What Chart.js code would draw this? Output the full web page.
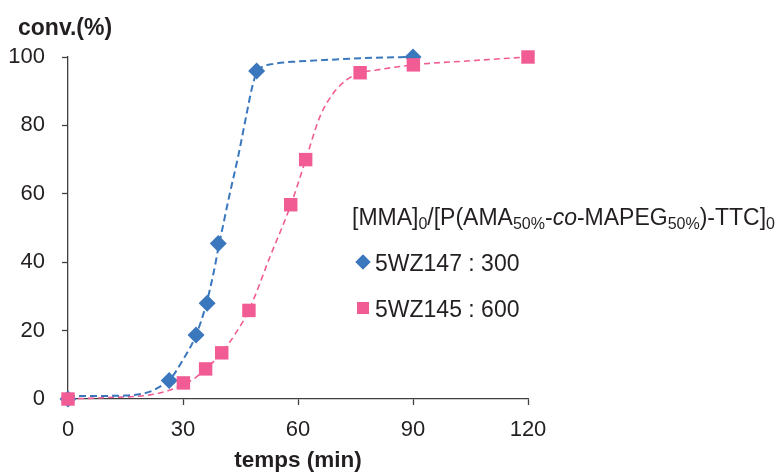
<!DOCTYPE html>
<html>
<head>
<meta charset="utf-8">
<script src="https://cdn.jsdelivr.net/npm/chart.js@4"></script>
<style>
  body { margin: 0; background: #fff; }
  #wrap { width: 781px; height: 472px; position: relative; }
</style>
</head>
<body>
<div id="wrap"><canvas id="myChart"></canvas></div>
<script>
// measured points
const time147 = [0, 26.4, 33.4, 36.3, 39.2, 49.2, 90];
const conv147 = [0, 5.4, 18.7, 28, 45.5, 95.9, 100];
const time145 = [0, 30.1, 35.9, 40.1, 47.2, 58.1, 62, 76.2, 90.1, 120];
const conv145 = [0, 4.7, 8.8, 13.5, 25.9, 56.8, 70, 95.4, 97.7, 100];

// dashed fit curves
const fitTime147 = [0, 8, 15, 21, 24, 26.4, 29.7, 33.4, 36, 38, 39.2, 40.5, 42, 44.4, 46.8, 48, 49.2, 50.5, 53.6, 60, 66.6, 80, 90];
const fitConv147 = [0.8, 0.9, 1, 2, 3.6, 5.4, 10.9, 18.7, 27.5, 37, 44, 51, 59, 71, 84.5, 91, 95.5, 97, 98, 98.7, 99.1, 99.8, 100];
const fitTime145 = [0, 10, 21.4, 26.6, 30.1, 32.7, 35.9, 40.1, 44, 47.2, 52.7, 58.1, 62, 65.7, 69.2, 72.7, 76.2, 80.5, 90, 105, 120];
const fitConv145 = [0, 0.4, 1.2, 2.6, 4.3, 5.8, 8.8, 13.5, 19.7, 26, 41.6, 56.7, 69.9, 82.5, 89.4, 93.3, 95.4, 96.2, 97.7, 98.9, 100];

const xTicks = [0, 30, 60, 90, 120];
const yTicks = [0, 20, 40, 60, 80, 100];

const seriesNames = ['5WZ147 : 300', '5WZ145 : 600'];

const blue = '#3A77BD';
const pink = '#F15C95';
const axisColor = '#404040';
const textColor = '#231F20';
const FONT = "'Liberation Sans', Arial, sans-serif";

const pts = (xs, ys) => xs.map((x, i) => ({ x: x, y: ys[i] }));

// y axis title + legend with subscripts
const extras = {
  id: 'extras',
  afterDraw(chart) {
    const ctx = chart.ctx;
    ctx.save();
    ctx.fillStyle = textColor;
    ctx.textBaseline = 'alphabetic';
    ctx.textAlign = 'left';
    ctx.font = 'bold 23px ' + FONT;
    ctx.fillText('conv.(%)', 18, 35);

    // legend title
    const parts = [
      ['[MMA]', 'n'], ['0', 's'], ['/[P(AMA', 'n'], ['50%', 's'], ['-', 'n'],
      ['co', 'i'], ['-MAPEG', 'n'], ['50%', 's'], [')-TTC]', 'n'], ['0', 's']
    ];
    let x = 352;
    const base = 225;
    parts.forEach(p => {
      let y = base;
      if (p[1] === 's') { ctx.font = '16px ' + FONT; y = base + 4; }
      else if (p[1] === 'i') { ctx.font = 'italic 23px ' + FONT; }
      else { ctx.font = '23px ' + FONT; }
      ctx.fillText(p[0], x, y);
      x += ctx.measureText(p[0]).width;
    });

    // legend items: blue diamond then pink square
    const rows = [
      { name: seriesNames[0], color: blue, style: 'rectRot', r: 7.5, y: 271 },
      { name: seriesNames[1], color: pink, style: 'rect', r: 8.5, y: 317 }
    ];
    rows.forEach(row => {
      ctx.fillStyle = row.color;
      Chart.helpers.drawPoint(ctx, { pointStyle: row.style, radius: row.r, borderWidth: 0 }, 363, row.y - 9);
      ctx.fill();
      ctx.fillStyle = textColor;
      ctx.font = '23px ' + FONT;
      ctx.fillText(row.name, 375, row.y);
    });
    ctx.restore();
  }
};

const ctx = document.getElementById('myChart');
new Chart(ctx, {
  type: 'scatter',
  data: {
    datasets: [
      {
        label: seriesNames[1], data: pts(time145, conv145),
        pointStyle: 'rect', pointRadius: 9.5, pointHoverRadius: 9.5,
        backgroundColor: pink, borderWidth: 0, showLine: false, clip: false, order: 0
      },
      {
        label: seriesNames[0], data: pts(time147, conv147),
        pointStyle: 'rectRot', pointRadius: 8.5, pointHoverRadius: 8.5,
        backgroundColor: blue, borderWidth: 0, showLine: false, clip: false, order: 1
      },
      {
        label: 'fit147', data: pts(fitTime147, fitConv147), showLine: true,
        borderColor: blue, borderWidth: 2, borderDash: [7, 4], pointRadius: 0,
        cubicInterpolationMode: 'monotone', fill: false, clip: false, order: 2
      },
      {
        label: 'fit145', data: pts(fitTime145, fitConv145), showLine: true,
        borderColor: pink, borderWidth: 1.6, borderDash: [6, 4], pointRadius: 0,
        cubicInterpolationMode: 'monotone', fill: false, clip: false, order: 3
      }
    ]
  },
  options: {
    responsive: true,
    maintainAspectRatio: false,
    animation: false,
    layout: { padding: { left: 0, top: 57, right: 253, bottom: 0 } },
    plugins: { legend: { display: false }, tooltip: { enabled: false } },
    scales: {
      x: {
        type: 'linear', min: 0, max: 120,
        afterBuildTicks: s => { s.ticks = xTicks.map(v => ({ value: v })); },
        afterFit: s => { s.height = 73; },
        grid: { drawOnChartArea: false, drawTicks: true, tickLength: 6, tickColor: axisColor, tickWidth: 1.3 },
        border: { color: axisColor, width: 1.3 },
        ticks: { color: textColor, font: { family: FONT, size: 22 }, padding: 12, maxRotation: 0 },
        title: {
          display: true, text: 'temps (min)', color: textColor,
          font: { family: FONT, size: 22.5, weight: 'bold', lineHeight: 1 }, padding: { top: 0, bottom: 0 }
        }
      },
      y: {
        type: 'linear', min: 0, max: 100,
        afterBuildTicks: s => { s.ticks = yTicks.map(v => ({ value: v })); },
        afterFit: s => { s.width = 68; },
        grid: { drawOnChartArea: false, drawTicks: true, tickLength: 6, tickColor: axisColor, tickWidth: 1.3 },
        border: { color: axisColor, width: 1.3 },
        ticks: { color: textColor, font: { family: FONT, size: 22 }, padding: 17 }
      }
    }
  },
  plugins: [extras]
});
</script>
</body>
</html>
